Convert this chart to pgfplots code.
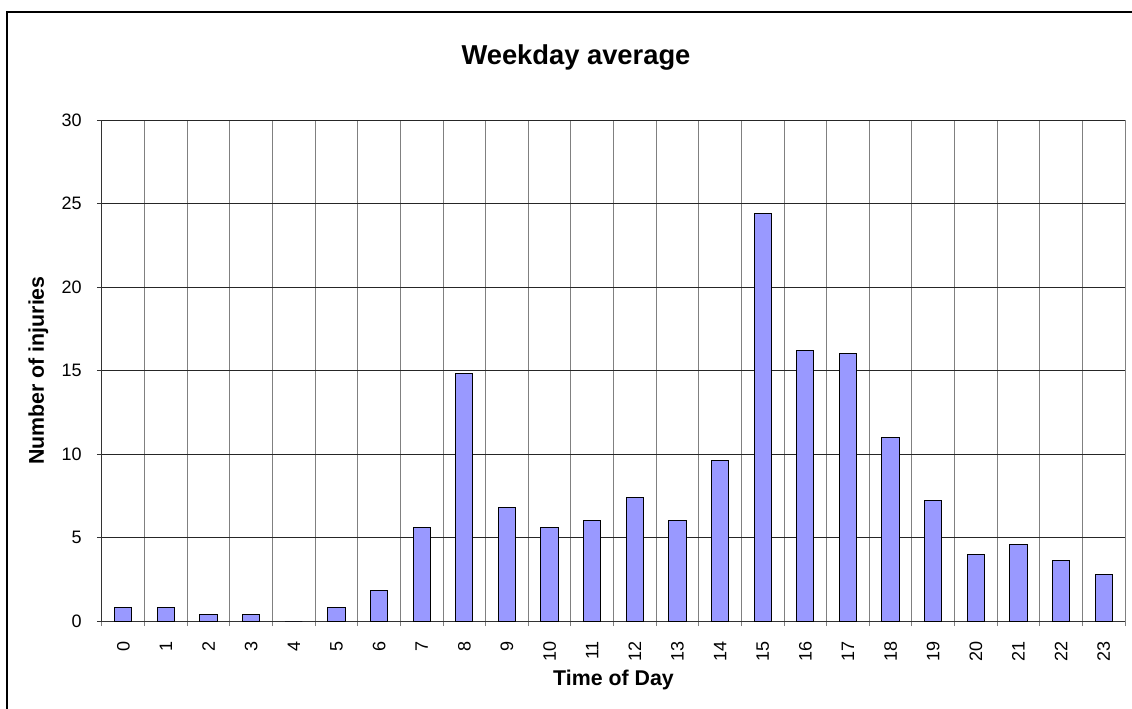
\documentclass[border=0pt]{standalone}
\usepackage{fontspec}
\setmainfont{Liberation Sans}
\usepackage{pgfplots}
\pgfplotsset{compat=1.18}
\definecolor{barblue}{RGB}{153,153,255}
\definecolor{vgrid}{RGB}{128,128,128}

\begin{document}
\begin{tikzpicture}
% page: 1132x708 px at 0.75pt per px, axis box lower-left at (0,0)
\useasboundingbox (-76.5pt,-65.25pt) rectangle (772.5pt,465.75pt);
\begin{axis}[
    at={(0,0)}, anchor=south west,
    scale only axis,
    width=767.25pt,
    height=375.75pt,
    xmin=-0.5, xmax=23.5,
    ymin=0, ymax=30,
    xtick={0,...,23},
    minor xtick={-0.5,0.5,...,23.5},
    ytick={0,5,...,30},
    axis lines*=left,
    axis line style={black!80, line width=0.75pt},
    tick align=outside,
    major tick length=3.75pt,
    minor tick length=3.75pt,
    major x tick style={draw=none},
    minor x tick style={vgrid, line width=0.75pt},
    major y tick style={black!80, line width=0.75pt},
    xminorgrids=true,
    ymajorgrids=true,
    minor x grid style={vgrid, line width=0.75pt},
    major y grid style={black!85, line width=0.75pt},
    /pgf/number format/assume math mode=true,
    xticklabel style={font=\fontsize{13.5}{16}\selectfont, rotate=90, anchor=east, inner sep=0pt},
    xticklabel shift=11.25pt,
    yticklabel style={font=\fontsize{13.5}{16}\selectfont, anchor=east, inner sep=0pt},
    yticklabel shift=11.25pt,
    xlabel={Time of Day},
    ylabel={Number of injuries},
    xlabel style={font=\bfseries\fontsize{16}{19}\selectfont, at={(rel axis cs:0.5,0)}, anchor=base, yshift=-48pt},
    ylabel style={font=\bfseries\fontsize{16}{19}\selectfont, at={(rel axis cs:0,0.5)}, anchor=base, yshift=43.5pt},
    ybar,
    bar width=13pt,
]
\addplot[fill=barblue, draw=black, line width=0.75pt]
    coordinates {
        (0,0.8) (1,0.8) (2,0.4) (3,0.4) (4,0) (5,0.8)
        (6,1.8) (7,5.6) (8,14.8) (9,6.8) (10,5.6) (11,6.0)
        (12,7.4) (13,6.0) (14,9.6) (15,24.4) (16,16.2) (17,16.0)
        (18,11.0) (19,7.2) (20,4.0) (21,4.6) (22,3.6) (23,2.8)
    };
\end{axis}
% title and outer frame
\node[anchor=base, font=\bfseries\fontsize{20.5}{24}\selectfont] at (355.5pt,417pt) {Weekday average};
\draw[black, line width=1.5pt] (-71.25pt,-70pt) -- (-71.25pt,456.75pt) -- (780pt,456.75pt);
\end{tikzpicture}
\end{document}
